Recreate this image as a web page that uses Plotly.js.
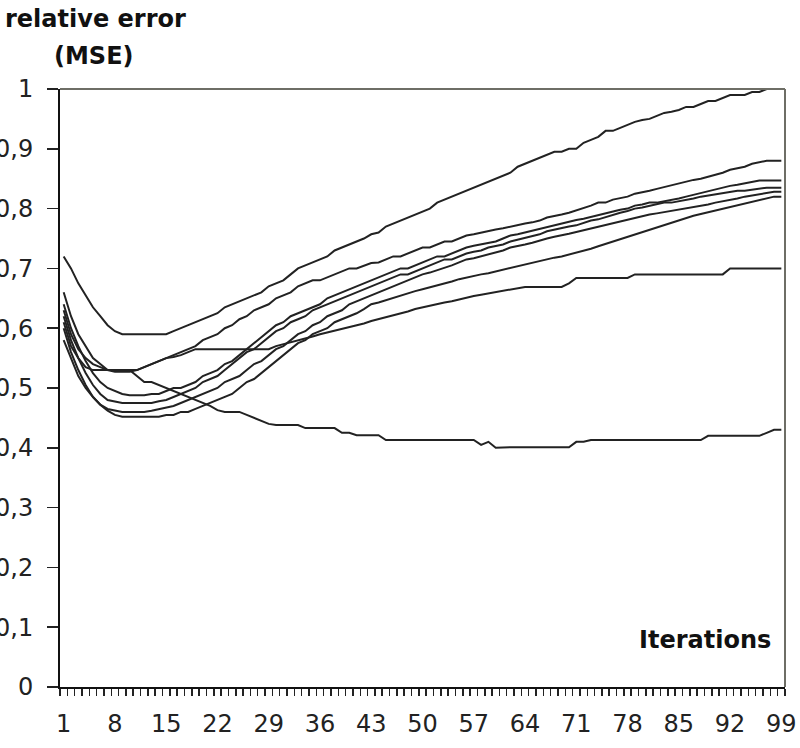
<!DOCTYPE html>
<html>
<head>
<meta charset="utf-8">
<script src="https://cdn.plot.ly/plotly-3.0.1.min.js"></script>
<style>html,body{margin:0;padding:0;background:#fff;}#chart{width:800px;height:748px;}</style>
</head>
<body>
<div id="chart"></div>
<script>
// iterations 1..99 (category positions)
const iterations = Array.from({length: 99}, (_, k) => k + 1);
const xTickVals = [1, 8, 15, 22, 29, 36, 43, 50, 57, 64, 71, 78, 85, 92, 99];
const yTickVals = [0, 0.1, 0.2, 0.3, 0.4, 0.5, 0.6, 0.7, 0.8, 0.9, 1];

const seriesA = [
  0.72,0.70,0.675,0.655,0.635,0.62,0.605,0.595,0.59,0.59,
  0.59,0.59,0.59,0.59,0.59,0.595,0.60,0.605,0.61,0.615,
  0.62,0.625,0.635,0.64,0.645,0.65,0.655,0.66,0.67,0.675,
  0.68,0.69,0.70,0.705,0.71,0.715,0.72,0.73,0.735,0.74,
  0.745,0.75,0.757,0.76,0.77,0.775,0.78,0.785,0.79,0.795,
  0.80,0.81,0.815,0.82,0.825,0.83,0.835,0.84,0.845,0.85,
  0.855,0.86,0.87,0.875,0.88,0.885,0.89,0.895,0.895,0.90,
  0.90,0.91,0.915,0.92,0.93,0.93,0.935,0.94,0.945,0.948,
  0.95,0.955,0.96,0.962,0.965,0.97,0.97,0.975,0.98,0.98,
  0.985,0.99,0.99,0.99,0.995,0.995,1.0,1.0,1.0
];
const seriesB = [
  0.66,0.62,0.59,0.57,0.55,0.54,0.53,0.527,0.527,0.527,
  0.53,0.535,0.54,0.545,0.55,0.555,0.56,0.565,0.57,0.58,
  0.585,0.59,0.60,0.605,0.615,0.62,0.63,0.635,0.64,0.65,
  0.655,0.66,0.67,0.675,0.68,0.68,0.685,0.69,0.695,0.70,
  0.70,0.705,0.709,0.71,0.715,0.72,0.72,0.725,0.73,0.735,
  0.735,0.74,0.745,0.745,0.75,0.755,0.757,0.76,0.762,0.765,
  0.767,0.77,0.772,0.775,0.777,0.78,0.785,0.787,0.79,0.793,
  0.797,0.80,0.805,0.81,0.81,0.815,0.818,0.82,0.825,0.827,
  0.83,0.833,0.836,0.84,0.842,0.845,0.848,0.85,0.853,0.857,
  0.86,0.865,0.868,0.87,0.875,0.877,0.88,0.88,0.88
];
const seriesC = [
  0.64,0.60,0.57,0.545,0.525,0.51,0.50,0.495,0.49,0.488,
  0.488,0.488,0.49,0.49,0.495,0.50,0.50,0.505,0.51,0.52,
  0.525,0.53,0.54,0.545,0.555,0.565,0.575,0.585,0.595,0.605,
  0.61,0.62,0.625,0.63,0.635,0.64,0.65,0.655,0.66,0.665,
  0.67,0.675,0.68,0.685,0.69,0.695,0.70,0.70,0.705,0.71,
  0.715,0.72,0.72,0.725,0.73,0.735,0.738,0.74,0.742,0.745,
  0.75,0.755,0.757,0.76,0.763,0.767,0.77,0.772,0.775,0.778,
  0.781,0.783,0.786,0.79,0.792,0.795,0.798,0.80,0.805,0.807,
  0.81,0.81,0.812,0.815,0.817,0.82,0.823,0.826,0.83,0.832,
  0.835,0.838,0.84,0.842,0.845,0.847,0.847,0.847,0.847
];
const seriesD = [
  0.62,0.58,0.55,0.525,0.505,0.49,0.48,0.477,0.475,0.475,
  0.475,0.475,0.475,0.478,0.48,0.485,0.49,0.495,0.50,0.51,
  0.515,0.52,0.53,0.54,0.55,0.56,0.565,0.575,0.585,0.595,
  0.60,0.61,0.615,0.62,0.63,0.635,0.64,0.645,0.65,0.655,
  0.66,0.665,0.669,0.675,0.68,0.685,0.69,0.69,0.695,0.70,
  0.705,0.71,0.715,0.715,0.72,0.725,0.728,0.73,0.735,0.737,
  0.74,0.745,0.748,0.75,0.753,0.757,0.762,0.765,0.768,0.77,
  0.772,0.776,0.78,0.782,0.786,0.79,0.793,0.796,0.80,0.802,
  0.805,0.807,0.81,0.81,0.812,0.815,0.817,0.82,0.822,0.823,
  0.825,0.827,0.83,0.83,0.832,0.833,0.835,0.835,0.835
];
const seriesE = [
  0.60,0.56,0.53,0.505,0.485,0.472,0.465,0.462,0.46,0.46,
  0.46,0.46,0.462,0.465,0.468,0.47,0.475,0.48,0.485,0.49,
  0.495,0.50,0.51,0.515,0.52,0.53,0.54,0.545,0.555,0.565,
  0.57,0.58,0.59,0.595,0.605,0.61,0.62,0.625,0.63,0.64,
  0.645,0.65,0.656,0.66,0.665,0.67,0.675,0.68,0.685,0.69,
  0.693,0.697,0.70,0.705,0.71,0.715,0.717,0.72,0.723,0.727,
  0.73,0.735,0.737,0.74,0.743,0.747,0.75,0.753,0.755,0.758,
  0.761,0.764,0.767,0.77,0.772,0.775,0.778,0.781,0.785,0.788,
  0.79,0.792,0.794,0.796,0.798,0.80,0.802,0.805,0.807,0.81,
  0.812,0.815,0.817,0.82,0.822,0.824,0.826,0.828,0.828
];
const seriesF = [
  0.58,0.55,0.52,0.50,0.485,0.472,0.462,0.455,0.452,0.452,
  0.452,0.452,0.452,0.452,0.455,0.455,0.46,0.46,0.465,0.47,
  0.475,0.48,0.485,0.49,0.50,0.51,0.515,0.525,0.535,0.545,
  0.555,0.565,0.575,0.58,0.59,0.595,0.60,0.61,0.615,0.62,
  0.625,0.632,0.64,0.643,0.647,0.65,0.655,0.658,0.662,0.665,
  0.668,0.672,0.675,0.678,0.682,0.685,0.687,0.69,0.692,0.695,
  0.697,0.70,0.703,0.706,0.709,0.712,0.715,0.718,0.72,0.723,
  0.726,0.73,0.733,0.737,0.741,0.745,0.749,0.753,0.757,0.761,
  0.765,0.769,0.773,0.777,0.781,0.785,0.788,0.791,0.794,0.797,
  0.80,0.803,0.806,0.809,0.812,0.815,0.817,0.82,0.82
];
const seriesG = [
  0.63,0.59,0.565,0.55,0.54,0.535,0.53,0.53,0.53,0.53,
  0.53,0.535,0.54,0.545,0.55,0.552,0.555,0.56,0.565,0.565,
  0.565,0.565,0.565,0.565,0.565,0.565,0.565,0.565,0.565,0.57,
  0.573,0.577,0.58,0.583,0.586,0.59,0.593,0.595,0.598,0.602,
  0.605,0.608,0.612,0.615,0.618,0.622,0.625,0.628,0.632,0.635,
  0.638,0.64,0.643,0.645,0.648,0.652,0.654,0.656,0.658,0.66,
  0.662,0.665,0.667,0.669,0.669,0.669,0.669,0.669,0.669,0.675,
  0.684,0.684,0.684,0.684,0.684,0.684,0.684,0.684,0.69,0.69,
  0.69,0.69,0.69,0.69,0.69,0.69,0.69,0.69,0.69,0.69,
  0.69,0.70,0.70,0.70,0.70,0.70,0.70,0.70,0.70
];
const seriesH = [
  0.61,0.57,0.55,0.535,0.53,0.53,0.53,0.53,0.53,0.53,
  0.52,0.51,0.51,0.505,0.50,0.495,0.49,0.485,0.48,0.475,
  0.47,0.463,0.46,0.46,0.46,0.455,0.45,0.445,0.44,0.438,
  0.438,0.438,0.438,0.433,0.433,0.433,0.433,0.433,0.425,0.425,
  0.421,0.421,0.421,0.421,0.413,0.413,0.413,0.413,0.413,0.413,
  0.413,0.413,0.413,0.413,0.413,0.413,0.413,0.405,0.41,0.40,
  0.401,0.401,0.401,0.401,0.401,0.401,0.401,0.401,0.401,0.401,
  0.41,0.41,0.413,0.413,0.413,0.413,0.413,0.413,0.413,0.413,
  0.413,0.413,0.413,0.413,0.413,0.413,0.413,0.413,0.42,0.42,
  0.42,0.42,0.42,0.42,0.42,0.42,0.425,0.43,0.43
];

const allSeries = [seriesA, seriesB, seriesC, seriesD, seriesE, seriesF, seriesG, seriesH];

const traces = allSeries.map(s => ({
  x: iterations,
  y: s,
  type: 'scatter',
  mode: 'lines',
  line: {color: '#222', width: 2},
  hoverinfo: 'skip',
  showlegend: false
}));

const tickFont = {family: 'DejaVu Sans, Arial, sans-serif', size: 24, color: '#222'};
const boldFont = {family: 'DejaVu Sans, Arial, sans-serif', size: 24, color: '#111', weight: 'bold'};

const layout = {
  width: 800,
  height: 748,
  margin: {l: 60, r: 15, t: 89, b: 61, pad: 0},
  paper_bgcolor: '#fff',
  plot_bgcolor: '#fff',
  separators: ',.',
  showlegend: false,
  xaxis: {
    type: 'linear',
    range: [0.5, 99.5],
    tickmode: 'array',
    tickvals: xTickVals,
    ticktext: xTickVals.map(String),
    ticks: '',
    ticklabelstandoff: 14,
    tickfont: tickFont,
    showgrid: false,
    zeroline: false,
    showline: true,
    linecolor: '#111',
    linewidth: 2,
    minor: {ticks: 'outside', tickmode: 'linear', tick0: 0.5, dtick: 1, ticklen: 7, tickwidth: 1.5, tickcolor: '#222', showgrid: false},
    fixedrange: true
  },
  yaxis: {
    range: [0, 1],
    tickmode: 'array',
    tickvals: yTickVals,
    ticks: 'outside',
    ticklen: 11,
    tickwidth: 1.5,
    tickcolor: '#222',
    ticklabelstandoff: 9,
    tickfont: tickFont,
    showgrid: false,
    zeroline: false,
    showline: true,
    linecolor: '#111',
    linewidth: 2,
    fixedrange: true
  },
  shapes: [
    {type: 'line', xref: 'paper', yref: 'paper', x0: 0, x1: 1, y0: 1, y1: 1, line: {color: '#6e6e66', width: 2}},
    {type: 'line', xref: 'paper', yref: 'paper', x0: 1, x1: 1, y0: 0, y1: 1, line: {color: '#6e6e66', width: 2}}
  ],
  annotations: [
    {text: 'relative error', xref: 'paper', yref: 'paper', x: -0.079, y: 1.117, xanchor: 'left', yanchor: 'middle', showarrow: false, font: boldFont},
    {text: '(MSE)', xref: 'paper', yref: 'paper', x: -0.011, y: 1.055, xanchor: 'left', yanchor: 'middle', showarrow: false, font: boldFont},
    {text: 'Iterations', xref: 'paper', yref: 'paper', x: 0.796, y: 0.079, xanchor: 'left', yanchor: 'middle', showarrow: false, font: boldFont}
  ]
};

Plotly.newPlot('chart', traces, layout, {staticPlot: true, displayModeBar: false});
</script>
</body>
</html>
